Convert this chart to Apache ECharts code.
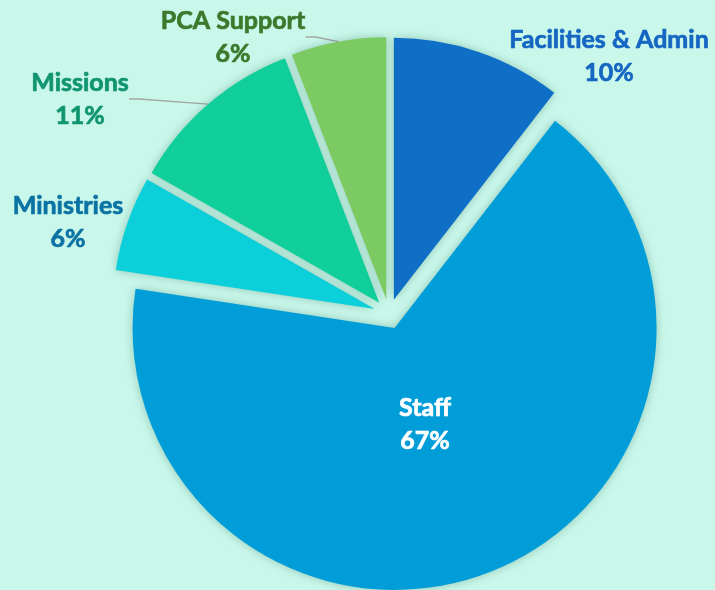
<!DOCTYPE html>
<html>
<head>
<meta charset="utf-8">
<script src="https://cdn.jsdelivr.net/npm/echarts@6/dist/echarts.min.js"></script>
<style>
  html, body { margin: 0; padding: 0; background: #c9f8ea; }
  #chart { width: 715px; height: 590px; }
</style>
</head>
<body>
<div id="chart"></div>
<script>
// data (slice angles), shown rounded as 10/67/6/11/6 %
const categories = ['Facilities & Admin', 'Staff', 'Ministries', 'Missions', 'PCA Support'];
const shares = [10.49, 66.9, 5.85, 10.9, 5.86];
const sliceColors = ['#0f6fc6', '#009dd9', '#0bd0d9', '#10cf9b', '#7cca62'];
const labelColors = ['#1566c2', '#ffffff', '#0b73a3', '#119570', '#3b7a2c'];

// label block centres (x, y) in px
const labelPos = [[609, 56], [425, 424], [68, 222], [80, 99], [233, 37]];

const pieCenter = [389, 314];
const explode = 15;

const chart = echarts.init(document.getElementById('chart'));

// every slice is pulled out along its own bisector, so each one gets
// its own series (same data, the other slices left invisible)
const total = shares.reduce((a, b) => a + b, 0);
let cum = 0;
const series = categories.map((name, i) => {
    const mid = (cum + shares[i] / 2) / total * Math.PI * 2;
    cum += shares[i];
    const dx = Math.sin(mid) * explode;
    const dy = -Math.cos(mid) * explode;
    return {
        type: 'pie',
        name: name,
        center: [pieCenter[0] + dx, pieCenter[1] + dy],
        radius: 262,
        startAngle: 90,
        clockwise: true,
        percentPrecision: 0,
        avoidLabelOverlap: false,
        emphasis: { disabled: true },
        silent: true,
        z: i === 1 ? 1 : 2,
        data: categories.map((n, j) => {
            if (j !== i) {
                return {
                    name: n, value: shares[j],
                    itemStyle: { color: 'rgba(0,0,0,0)', shadowBlur: 0 },
                    label: { show: false }, labelLine: { show: false }
                };
            }
            return {
                name: n, value: shares[j],
                itemStyle: { color: sliceColors[j] },
                label: {
                    color: labelColors[j],
                    textBorderColor: labelColors[j],
                    textBorderWidth: 0.7,
                    position: j === 1 ? 'inside' : 'outside'
                },
                labelLine: { show: j === 3 || j === 4 }
            };
        }),
        itemStyle: {
            shadowBlur: 10,
            shadowColor: 'rgba(0, 70, 50, 0.28)'
        },
        label: {
            formatter: '{b}\n{d}%',
            fontFamily: 'Lato',
            fontWeight: 'bold',
            fontSize: 25,
            lineHeight: 33,
            align: 'center',
            overflow: 'none'
        },
        labelLine: {
            lineStyle: { color: '#a6a6a6', width: 1.3 },
            length: 10,
            length2: 10
        },
        labelLayout: function (params) {
            const p = labelPos[params.dataIndex];
            return { x: p[0], y: p[1], align: 'center', verticalAlign: 'middle' };
        }
    };
});

chart.setOption({
    backgroundColor: '#c9f8ea',
    animation: false,
    series: series
});
</script>
</body>
</html>
